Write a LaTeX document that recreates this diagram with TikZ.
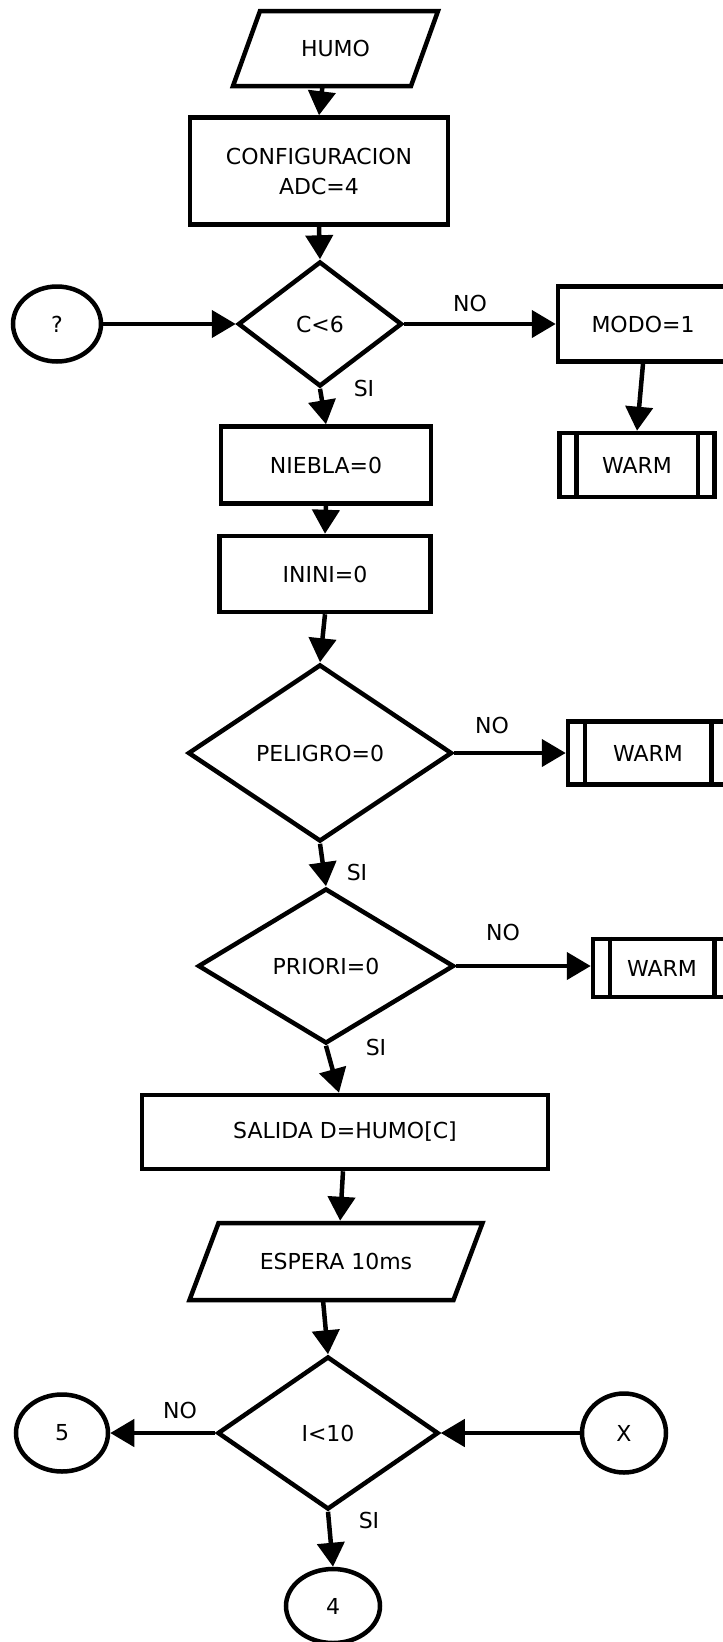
\documentclass[tikz,border=0pt]{standalone}
\usepackage{fontspec}
\setmainfont{DejaVu Sans}
\usetikzlibrary{arrows.meta,shapes.geometric}

\begin{document}
\begin{tikzpicture}[x=1pt,y=-1pt,line join=miter,font=\fontsize{22}{30}\selectfont]
  % ----- styles -----
  \tikzset{
    proc/.style={draw=black,line width=4.5pt,rectangle,inner sep=0pt,align=center},
    decision/.style={draw=black,line width=4.5pt,diamond,inner sep=0pt},
    io/.style={rectangle,inner sep=0pt,outer sep=0pt},
    conn/.style={draw=black,line width=4.5pt,ellipse,inner sep=0pt},
    subr/.style={proc},
    arr/.style={draw=black,line width=4.5pt,-{Triangle[length=24pt,width=27pt]}},
    lbl/.style={inner sep=0pt}
  }

  % ----- page -----
  \useasboundingbox (0,0) rectangle (723,1642);
  \clip (0,0) rectangle (723,1642);

  % ----- main column -----
  \node[io,minimum width=178pt,minimum height=75pt] (humo) at (335.5,48.5) {HUMO};
  \node[proc,minimum width=258pt,minimum height=107pt] (config) at (319,171) {CONFIGURACION\\ADC=4};
  \node[decision,minimum width=164pt,minimum height=125pt] (c6) at (320,324) {C<6};
  \node[proc,minimum width=210pt,minimum height=77pt] (niebla) at (326,465) {NIEBLA=0};
  \node[proc,minimum width=211pt,minimum height=76pt] (inini) at (325,574) {ININI=0};
  \node[decision,minimum width=264pt,minimum height=177pt] (peligro) at (320,753) {PELIGRO=0};
  \node[decision,minimum width=256pt,minimum height=155pt] (priori) at (326,966) {PRIORI=0};
  \node[proc,minimum width=406pt,minimum height=74pt] (salida) at (345,1132) {SALIDA D=HUMO[C]};
  \node[io,minimum width=264pt,minimum height=77pt] (espera) at (336,1261.5) {ESPERA 10ms};
  \node[decision,minimum width=221pt,minimum height=153pt] (i10) at (328,1433) {I<10};

  % parallelogram outlines (data blocks)
  \foreach \n/\s in {humo/13.5,espera/14.5}{
    \draw[line width=4.5pt] ([xshift=\s pt]\n.north west) -- ([xshift=\s pt]\n.north east)
      -- ([xshift=-\s pt]\n.south east) -- ([xshift=-\s pt]\n.south west) -- cycle;
  }

  % ----- connectors (circles) -----
  \node[conn,minimum width=88pt,minimum height=75pt] (qq) at (57,324) {?};
  \node[conn,minimum width=92pt,minimum height=77pt] (c5) at (62,1433) {5};
  \node[conn,minimum width=84pt,minimum height=79pt] (cx) at (624,1433) {X};
  \node[conn,minimum width=94pt,minimum height=74pt] (c4) at (333,1606) {4};

  % ----- side branch -----
  \node[proc,minimum width=170pt,minimum height=75pt] (modo) at (643,324) {MODO=1};
  \node[subr,minimum width=155pt,minimum height=64pt] (warm1) at (637,465) {WARM};
  \node[subr,minimum width=160pt,minimum height=63pt] (warm2) at (648,753) {WARM};
  \node[subr,minimum width=138pt,minimum height=58pt] (warm3) at (662,968) {WARM};
  \foreach \w in {warm1,warm2,warm3}{
    \draw[line width=4.5pt] ([xshift=19pt]\w.north west) -- ([xshift=19pt]\w.south west);
    \draw[line width=4.5pt] ([xshift=-19pt]\w.north east) -- ([xshift=-19pt]\w.south east);
  }

  % ----- labels -----
  \node[lbl] (no1) at (470,303) {NO};
  \node[lbl] (si1) at (364,388) {SI};
  \node[lbl] (no2) at (492,725) {NO};
  \node[lbl] (si2) at (357,872) {SI};
  \node[lbl] (no3) at (503,932) {NO};
  \node[lbl] (si3) at (376,1047) {SI};
  \node[lbl] (no4) at (180,1410) {NO};
  \node[lbl] (si4) at (369,1520) {SI};

  % ----- arrows -----
  \draw[arr] ([xshift=-13pt]humo.south) -- (config.north);
  \draw[arr] (config.south) -- (c6.north);
  \draw[arr] (qq.east) -- (c6.west);
  \draw[arr] (c6.east) -- (modo.west);
  \draw[arr] (modo.south) -- (warm1.north);
  \draw[arr] (c6.south) -- (niebla.north);
  \draw[arr] (niebla.south) -- (inini.north);
  \draw[arr] (inini.south) -- (peligro.north);
  \draw[arr] (peligro.east) -- (warm2.west);
  \draw[arr] (peligro.south) -- (priori.north);
  \draw[arr] (priori.east) -- (priori.east -| warm3.west);
  \draw[arr] (priori.south) -- ([xshift=-6pt]salida.north);
  \draw[arr,shorten >=2.25pt] ([xshift=-2pt]salida.south) -- ([xshift=4pt]espera.north);
  \draw[arr] ([xshift=-13pt]espera.south) -- (i10.north);
  \draw[arr] (i10.west) -- (c5.east);
  \draw[arr] (cx.west) -- (i10.east);
  \draw[arr] (i10.south) -- (c4.north);

\end{tikzpicture}
\end{document}
